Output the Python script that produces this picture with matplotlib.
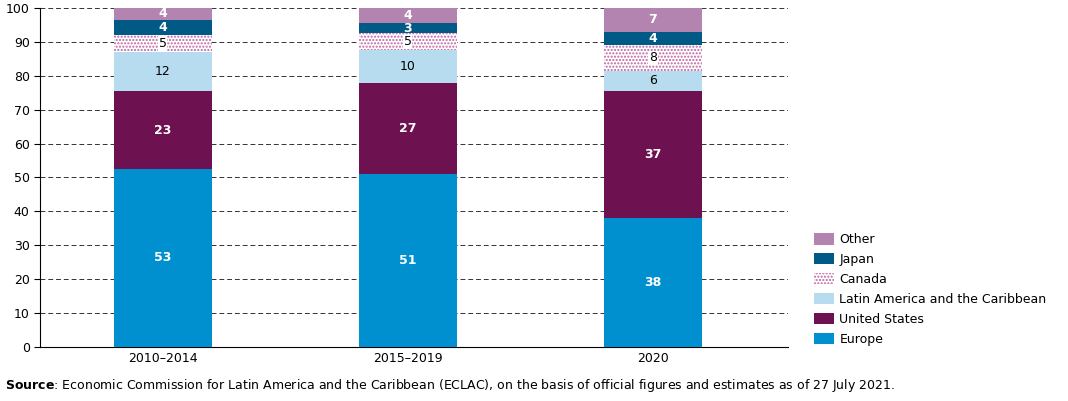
import numpy as np
import matplotlib.pyplot as plt

plt.rcParams['font.family'] = ['DejaVu Sans']

periods = ['2010\u20132014', '2015\u20132019', '2020']
series = ['Europe', 'United States', 'Latin America and the Caribbean', 'Canada', 'Japan', 'Other']
heights = {
    'Europe': [52.5, 51, 38],
    'United States': [23, 27, 37.5],
    'Latin America and the Caribbean': [11.5, 9.5, 6],
    'Canada': [5, 5, 7.5],
    'Japan': [4.5, 3, 4],
    'Other': [3.5, 4.5, 7],
}
labels = {
    'Europe': [53, 51, 38],
    'United States': [23, 27, 37],
    'Latin America and the Caribbean': [12, 10, 6],
    'Canada': [5, 5, 8],
    'Japan': [4, 3, 4],
    'Other': [4, 4, 7],
}
colors = {
    'Europe': '#0090d0',
    'United States': '#6d1150',
    'Latin America and the Caribbean': '#b8dcef',
    'Canada': 'white',
    'Japan': '#005a85',
    'Other': '#b484b0',
}
white_text = {'Europe', 'United States', 'Japan', 'Other'}

fig = plt.figure(figsize=(10.68, 4.01), dpi=100)
ax = fig.add_axes([0.0375, 0.135, 0.70, 0.845])

x = np.arange(len(periods))
bottom = np.zeros(len(periods))
handles = []
for s in series:
    h = np.array(heights[s])
    if s == 'Canada':
        b = ax.bar(x, h, 0.4, bottom=bottom, color='white', edgecolor='#c060a0',
                   hatch='.....', linewidth=0, zorder=3)
    else:
        b = ax.bar(x, h, 0.4, bottom=bottom, color=colors[s], linewidth=0, zorder=3)
    handles.append(b)
    for xi, bi, hi, lab in zip(x, bottom, h, labels[s]):
        if s in white_text:
            ax.text(xi, bi + hi / 2, str(lab), ha='center', va='center', color='white',
                    fontsize=9, fontweight='bold', zorder=4)
        else:
            kw = {}
            if s == 'Canada':
                kw['bbox'] = dict(facecolor='white', edgecolor='none', pad=0.5)
            ax.text(xi, bi + hi / 2, str(lab), ha='center', va='center', color='black',
                    fontsize=9, zorder=4, **kw)
    bottom += h

ax.set_xlim(-0.5, 2.55)
ax.set_ylim(0, 100)
ax.set_yticks(range(0, 101, 10))
ax.set_xticks(x)
ax.set_xticklabels(periods, fontsize=9)
ax.tick_params(axis='y', labelsize=9, length=4)
ax.tick_params(axis='x', length=0)
ax.yaxis.grid(True, linestyle=(0, (5, 3)), color='#333333', linewidth=0.7, zorder=0)
for sp in ['top', 'right']:
    ax.spines[sp].set_visible(False)
ax.spines['left'].set_linewidth(0.8)
ax.spines['bottom'].set_linewidth(0.8)

fig.legend(handles[::-1], series[::-1], loc='lower left', bbox_to_anchor=(0.752, 0.11),
           frameon=False, fontsize=9, handlelength=1.6, handleheight=1.0,
           labelspacing=0.55, handletextpad=0.4)

fig.text(0.005, 0.03, r'$\bf{Source}$: Economic Commission for Latin America and the Caribbean (ECLAC), '
         'on the basis of official figures and estimates as of 27 July 2021.', fontsize=9)

fig.savefig('out.png', dpi=100)
